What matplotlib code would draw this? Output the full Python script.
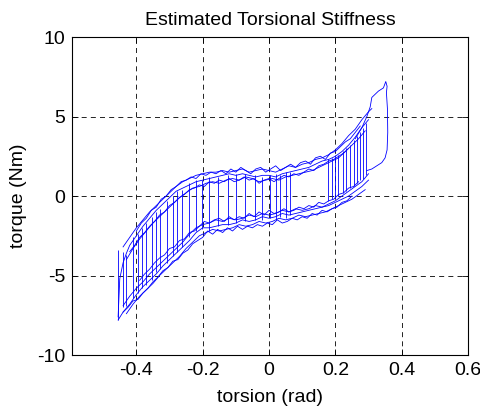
import matplotlib
matplotlib.use('Agg')
import matplotlib.pyplot as plt

plt.rcParams['font.family'] = ['Liberation Sans', 'DejaVu Sans']

# upper branches (torsion increasing)
up1_x = [-0.455, -0.45, -0.44, -0.43, -0.42, -0.40, -0.38, -0.36, -0.34, -0.32, -0.30, -0.28, -0.26, -0.24, -0.22,
         -0.20, -0.18, -0.16, -0.14, -0.12, -0.10, -0.08, -0.06, -0.04, -0.02, 0.00, 0.02, 0.04, 0.06, 0.08, 0.10,
         0.12, 0.14, 0.16, 0.18, 0.20, 0.22, 0.24, 0.26, 0.28, 0.30]
up1_y = [-7.6, -5.2, -4.2, -3.6, -3.1, -2.5, -1.9, -1.4, -0.9, -0.5, -0.1, 0.3, 0.5, 0.7, 0.9,
         1.0, 1.1, 1.2, 1.3, 1.4, 1.3, 1.4, 1.3, 1.2, 1.3, 1.3, 1.2, 1.4, 1.5, 1.6, 1.7,
         1.8, 2.0, 2.2, 2.3, 2.5, 2.8, 3.2, 3.7, 4.3, 4.8]
up2_x = [-0.44, -0.42, -0.40, -0.38, -0.36, -0.34, -0.32, -0.30, -0.28, -0.26, -0.24, -0.22, -0.20, -0.18, -0.16,
         -0.14, -0.12, -0.10, -0.08, -0.06, -0.04, -0.02, 0.00, 0.02, 0.04, 0.06, 0.08, 0.10, 0.12, 0.14, 0.16,
         0.18, 0.20, 0.22, 0.24, 0.26, 0.28, 0.30, 0.31]
up2_y = [-3.2, -2.6, -2.0, -1.5, -1.0, -0.6, -0.2, 0.2, 0.6, 0.9, 1.1, 1.3, 1.4, 1.5, 1.5,
         1.6, 1.5, 1.6, 1.7, 1.5, 1.6, 1.7, 1.6, 1.5, 1.7, 1.9, 1.8, 2.0, 2.1, 2.3, 2.4,
         2.6, 2.9, 3.3, 3.8, 4.2, 4.8, 5.3, 5.5]
up3_x = [-0.43, -0.41, -0.39, -0.37, -0.35, -0.33, -0.31, -0.29, -0.27, -0.25, -0.23, -0.21, -0.19, -0.17, -0.15,
         -0.13, -0.11, -0.09, -0.07, -0.05, -0.03, -0.01, 0.01, 0.03, 0.05, 0.07, 0.09, 0.11, 0.13, 0.15, 0.17,
         0.19, 0.21, 0.23, 0.25, 0.27, 0.29]
up3_y = [-4.0, -3.3, -2.7, -2.2, -1.7, -1.3, -0.9, -0.5, -0.1, 0.2, 0.5, 0.6, 0.8, 0.9, 0.8,
         1.0, 1.1, 1.0, 1.2, 1.1, 0.9, 1.0, 1.1, 1.0, 1.2, 1.3, 1.4, 1.5, 1.6, 1.8, 2.0,
         2.2, 2.4, 2.8, 3.2, 3.6, 4.1]
up4_x = [-0.40, -0.385, -0.37, -0.355, -0.34, -0.325, -0.31, -0.295, -0.28, -0.265, -0.25, -0.235, -0.22, -0.205,
         -0.19, -0.175, -0.16, -0.145, -0.13, -0.115, -0.10, -0.085, -0.07, -0.055, -0.04, -0.025, -0.01, 0.005,
         0.02, 0.035, 0.05, 0.065, 0.08, 0.095, 0.11, 0.125, 0.14, 0.155, 0.17, 0.185, 0.20, 0.215, 0.23, 0.245,
         0.26, 0.275]
up4_y = [-2.2, -1.7, -1.4, -0.9, -0.7, -0.2, 0.0, 0.4, 0.6, 0.9, 1.0, 1.2, 1.1, 1.4,
         1.3, 1.5, 1.4, 1.6, 1.4, 1.7, 1.5, 1.8, 1.6, 1.4, 1.7, 1.8, 1.5, 1.7,
         1.9, 1.6, 1.8, 2.0, 1.8, 2.1, 2.2, 2.0, 2.4, 2.5, 2.3, 2.7, 2.8, 3.1, 3.4, 3.6,
         4.0, 4.4]
up5_x = [-0.42, -0.405, -0.39, -0.375, -0.36, -0.345, -0.33, -0.315, -0.30, -0.285, -0.27, -0.255, -0.24, -0.225,
         -0.21, -0.195, -0.18, -0.165, -0.15, -0.135, -0.12, -0.105, -0.09, -0.075, -0.06, -0.045, -0.03, -0.015,
         0.0, 0.015, 0.03, 0.045, 0.06, 0.075, 0.09, 0.105, 0.12, 0.135, 0.15, 0.165, 0.18, 0.195, 0.21, 0.225,
         0.24]
up5_y = [-3.5, -3.1, -2.6, -2.3, -1.9, -1.6, -1.2, -1.0, -0.6, -0.4, -0.1, 0.1, 0.4, 0.5,
         0.7, 0.6, 0.9, 0.8, 1.0, 0.9, 1.1, 0.9, 1.0, 1.2, 1.0, 1.1, 0.8, 1.0,
         1.1, 0.9, 1.1, 1.3, 1.2, 1.4, 1.3, 1.5, 1.7, 1.6, 1.9, 2.0, 2.2, 2.3, 2.5, 2.7,
         3.0]

# lower branches (torsion decreasing)
lo1_x = [0.30, 0.28, 0.26, 0.24, 0.22, 0.20, 0.18, 0.16, 0.14, 0.12, 0.10, 0.08, 0.06, 0.04, 0.02,
         0.00, -0.02, -0.04, -0.06, -0.08, -0.10, -0.12, -0.14, -0.16, -0.18, -0.20, -0.22, -0.24, -0.26,
         -0.28, -0.30, -0.32, -0.34, -0.36, -0.38, -0.40, -0.42, -0.44, -0.455]
lo1_y = [1.4, 0.9, 0.6, 0.3, 0.0, -0.3, -0.5, -0.7, -0.8, -0.9, -1.0, -1.1, -1.2, -1.1, -1.3,
         -1.4, -1.3, -1.5, -1.6, -1.5, -1.7, -1.8, -1.8, -1.9, -2.0, -2.0, -2.3, -2.8, -3.2,
         -3.6, -4.0, -4.4, -4.9, -5.3, -5.7, -6.2, -6.8, -7.3, -7.8]
lo2_x = [0.30, 0.28, 0.26, 0.24, 0.22, 0.20, 0.18, 0.16, 0.14, 0.12, 0.10, 0.08, 0.06, 0.04, 0.02,
         0.00, -0.02, -0.04, -0.06, -0.08, -0.10, -0.12, -0.14, -0.16, -0.18, -0.20, -0.22, -0.24, -0.26,
         -0.28, -0.30, -0.32, -0.34, -0.36, -0.38, -0.40, -0.42, -0.44]
lo2_y = [1.0, 0.6, 0.3, 0.0, -0.2, -0.4, -0.6, -0.7, -0.6, -0.8, -0.9, -0.8, -1.0, -0.9, -1.1,
         -1.2, -1.1, -1.3, -1.2, -1.4, -1.5, -1.4, -1.6, -1.5, -1.7, -1.8, -2.0, -2.4, -2.9,
         -3.3, -3.7, -4.1, -4.5, -4.9, -5.4, -5.8, -6.3, -6.9]
lo3_x = [0.29, 0.27, 0.25, 0.23, 0.21, 0.19, 0.17, 0.15, 0.13, 0.11, 0.09, 0.07, 0.05, 0.03, 0.01,
         -0.01, -0.03, -0.05, -0.07, -0.09, -0.11, -0.13, -0.15, -0.17, -0.19, -0.21, -0.23, -0.25, -0.27,
         -0.29, -0.31, -0.33, -0.35, -0.37, -0.39, -0.41, -0.43]
lo3_y = [0.4, 0.1, -0.2, -0.4, -0.6, -0.8, -1.0, -1.1, -1.2, -1.3, -1.2, -1.4, -1.5, -1.4, -1.6,
         -1.7, -1.6, -1.8, -1.9, -1.8, -2.0, -2.1, -2.2, -2.1, -2.3, -2.5, -2.9, -3.3, -3.8,
         -4.2, -4.6, -5.0, -5.5, -5.9, -6.3, -6.8, -7.4]
lo4_x = [0.27, 0.255, 0.24, 0.225, 0.21, 0.195, 0.18, 0.165, 0.15, 0.135, 0.12, 0.105, 0.09, 0.075, 0.06,
         0.045, 0.03, 0.015, 0.0, -0.015, -0.03, -0.045, -0.06, -0.075, -0.09, -0.105, -0.12, -0.135, -0.15,
         -0.165, -0.18, -0.195, -0.21, -0.225, -0.24, -0.255, -0.27, -0.285, -0.30, -0.315, -0.33, -0.345,
         -0.36, -0.375, -0.39]
lo4_y = [0.9, 0.6, 0.5, 0.2, 0.1, -0.2, -0.3, -0.5, -0.4, -0.7, -0.6, -0.8, -0.7, -0.9, -1.0,
         -0.8, -1.0, -1.1, -0.9, -1.2, -1.0, -1.3, -1.1, -1.4, -1.3, -1.5, -1.3, -1.6, -1.4,
         -1.5, -1.7, -1.6, -1.9, -2.2, -2.3, -2.7, -2.8, -3.2, -3.3, -3.7, -3.9, -4.2,
         -4.6, -4.9, -5.3]
lo5_x = [0.25, 0.235, 0.22, 0.205, 0.19, 0.175, 0.16, 0.145, 0.13, 0.115, 0.10, 0.085, 0.07, 0.055, 0.04,
         0.025, 0.01, -0.005, -0.02, -0.035, -0.05, -0.065, -0.08, -0.095, -0.11, -0.125, -0.14, -0.155, -0.17,
         -0.185, -0.20, -0.215, -0.23, -0.245, -0.26, -0.275, -0.29, -0.305, -0.32, -0.335, -0.35, -0.365,
         -0.38, -0.395, -0.41, -0.425, -0.44]
lo5_y = [0.0, -0.3, -0.4, -0.7, -0.8, -1.0, -0.9, -1.2, -1.1, -1.4, -1.3, -1.5, -1.4, -1.6, -1.7,
         -1.5, -1.8, -1.7, -1.9, -1.8, -2.0, -1.9, -2.1, -1.9, -2.2, -2.0, -2.3, -2.1, -2.4,
         -2.2, -2.6, -2.8, -3.0, -3.4, -3.6, -4.0, -4.1, -4.5, -4.7, -5.1, -5.4, -5.8,
         -6.1, -6.5, -6.6, -7.0, -7.3]

# outer excursion to max torsion
outer_x = [0.26, 0.28, 0.295, 0.305, 0.31, 0.33, 0.345, 0.352, 0.356, 0.354, 0.357, 0.358, 0.356, 0.35,
           0.34, 0.325, 0.31, 0.295]
outer_y = [3.6, 4.3, 5.0, 5.6, 6.2, 6.6, 6.8, 7.2, 6.9, 6.5, 5.5, 4.0, 2.9, 2.4, 2.1, 1.9, 1.7, 1.6]

# stick-slip jumps between branches
jump_x = [-0.455, -0.44, -0.43, -0.41, -0.395, -0.383, -0.37, -0.353, -0.34, -0.329, -0.307, -0.29, -0.277,
          -0.262, -0.24, -0.22, -0.202, -0.18, -0.154, -0.124, -0.10, -0.072, -0.042, -0.021, 0.003, 0.02,
          0.033, 0.05, 0.063, 0.178, 0.19, 0.2, 0.208, 0.223, 0.233, 0.244, 0.255, 0.265, 0.274, 0.283, 0.292]
jump_top = [-3.4, -3.5, -3.7, -2.6, -2.4, -2.0, -1.7, -1.3, -1.0, -0.8, -0.3, 0.0, 0.3,
            0.4, 0.8, 1.0, 1.0, 1.2, 1.2, 1.3, 1.4, 1.4, 1.3, 1.2, 1.3, 1.4,
            1.3, 1.5, 1.5, 2.3, 2.4, 2.6, 2.6, 2.8, 3.0, 3.2, 3.5, 3.8, 4.0, 4.3, 4.6]
jump_bot = [-7.8, -7.0, -6.9, -6.4, -6.1, -5.8, -5.6, -5.3, -4.8, -4.6, -4.2, -3.8, -3.5,
            -3.2, -2.6, -2.2, -2.1, -2.2, -1.9, -1.8, -1.7, -1.6, -1.5, -1.5, -1.4, -1.5,
            -1.3, -1.4, -1.2, -0.3, -0.2, -0.1, 0.0, 0.2, 0.3, 0.5, 0.6, 0.8, 1.0, 1.1, 1.3]

x_ticks = [-0.4, -0.2, 0, 0.2, 0.4, 0.6]
x_labels = ['-0.4', '-0.2', '0', '0.2', '0.4', '0.6']
y_ticks = [-10, -5, 0, 5, 10]
y_labels = ['-10', '-5', '0', '5', '10']

fig = plt.figure(figsize=(4.81, 4.09), dpi=100)
ax = fig.add_axes([0.1497, 0.132, 0.8233, 0.7775])

blue = (0, 0, 1)
lw = 0.6
for xs, ys in [(up1_x, up1_y), (up2_x, up2_y), (up3_x, up3_y), (up4_x, up4_y), (up5_x, up5_y),
               (lo1_x, lo1_y), (lo2_x, lo2_y), (lo3_x, lo3_y), (lo4_x, lo4_y), (lo5_x, lo5_y),
               (outer_x, outer_y)]:
    ax.plot(xs, ys, color=blue, linewidth=lw)
ax.vlines(jump_x, jump_bot, jump_top, color=blue, linewidth=lw)

ax.set_xlim(-0.594, 0.6)
ax.set_ylim(-10, 10)
ax.set_xticks(x_ticks)
ax.set_xticklabels(x_labels)
ax.set_yticks(y_ticks)
ax.set_yticklabels(y_labels)
ax.tick_params(direction='in', top=True, right=True, length=4, width=0.6, labelsize=14, pad=5)
ax.grid(True, color='k', linestyle=(0, (6, 5)), linewidth=0.6)
for s in ax.spines.values():
    s.set_linewidth(0.8)

ax.set_title('Estimated Torsional Stiffness', fontsize=14, pad=9)
ax.set_xlabel('torsion (rad)', fontsize=14, labelpad=7)
ax.set_ylabel('torque (Nm)', fontsize=14, labelpad=7)

fig.savefig('out.png', dpi=100)
